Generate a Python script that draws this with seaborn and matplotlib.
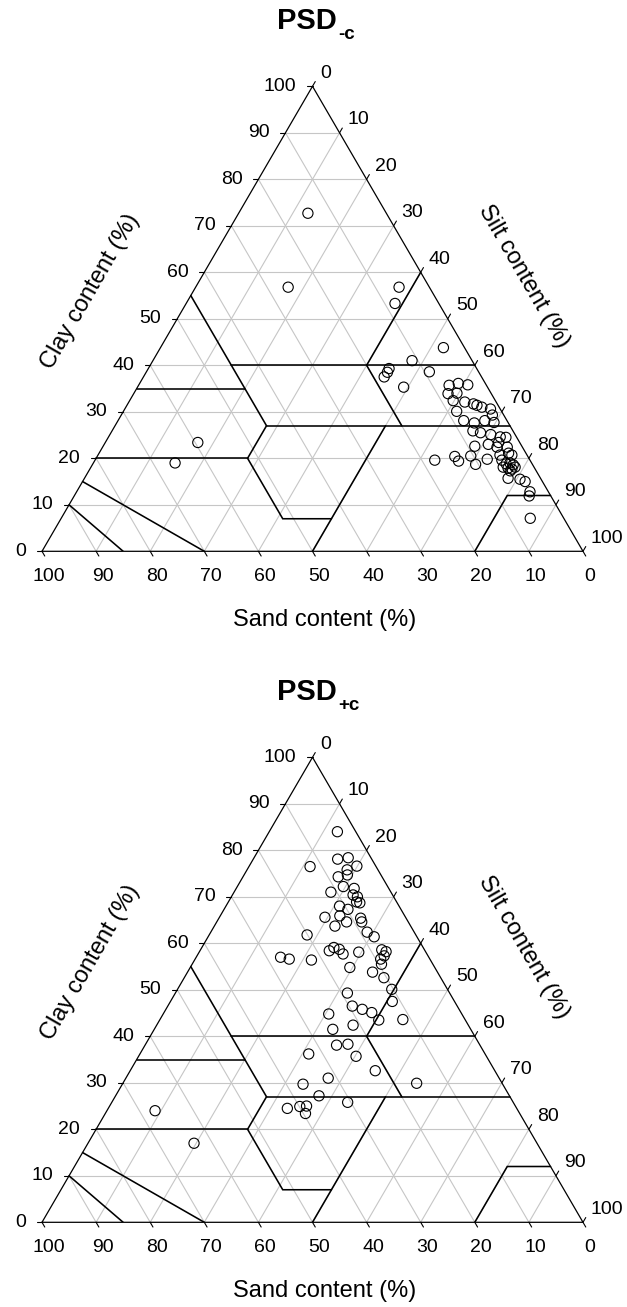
import matplotlib
matplotlib.use("Agg")
import matplotlib.pyplot as plt
import matplotlib.transforms as mtransforms
import numpy as np
import pandas as pd
import seaborn as sns

# ---------------------------------------------------------------------------
# Particle size distribution of the samples (%), without (-c) and with (+c)
# ---------------------------------------------------------------------------
clay_minus = [72.7, 56.8, 56.8, 53.3, 43.8, 41.0, 38.6, 39.3, 38.5, 37.5,
              35.3, 19.0, 23.4, 19.6, 20.4, 19.4, 20.5, 18.7, 19.8, 7.1,
              35.7, 36.1, 35.8, 33.9, 34.0, 32.4, 32.1, 31.7, 31.4, 31.0,
              30.6, 30.1, 29.3, 28.1, 27.6, 28.1, 27.7, 25.9, 25.5, 25.1,
              24.6, 24.5, 23.4, 23.0, 22.6, 22.4, 22.4, 21.1, 20.7, 20.7,
              19.6, 18.8, 19.0, 18.6, 17.9, 17.7, 18.1, 17.3, 15.7, 15.5,
              15.0, 12.8, 11.9, 18.1]
silt_minus = [12.8, 17.1, 37.6, 38.6, 52.3, 47.9, 52.3, 44.5, 44.6, 44.5,
              49.2, 15.1, 17.1, 62.8, 66.1, 67.3, 69.0, 70.8, 72.4, 86.7,
              57.4, 58.9, 60.8, 58.1, 59.7, 59.8, 62.1, 63.9, 64.7, 65.8,
              67.6, 61.6, 68.6, 63.9, 66.1, 67.8, 69.7, 66.7, 68.3, 70.4,
              72.4, 73.5, 72.7, 71.0, 68.7, 72.9, 74.8, 75.7, 76.5, 74.3,
              75.2, 76.4, 77.0, 77.8, 77.2, 78.0, 78.4, 77.9, 78.3, 80.6,
              81.8, 83.8, 84.1, 76.2]
sand_minus = [14.5, 26.1, 5.6, 8.1, 3.9, 11.1, 9.1, 16.2, 16.9, 18.0,
              15.5, 65.9, 59.5, 17.6, 13.5, 13.3, 10.5, 10.5, 7.8, 6.2,
              6.9, 5.0, 3.4, 8.0, 6.3, 7.8, 5.8, 4.4, 3.9, 3.2,
              1.8, 8.3, 2.1, 8.0, 6.3, 4.1, 2.6, 7.4, 6.2, 4.5,
              3.0, 2.0, 3.9, 6.0, 8.7, 4.7, 2.8, 3.2, 2.8, 5.0,
              5.2, 4.8, 4.0, 3.6, 4.9, 4.3, 3.5, 4.8, 6.0, 3.9,
              3.2, 3.4, 4.0, 5.7]

clay_plus = [24.0, 17.0, 24.5, 24.9, 25.0, 23.4, 27.2, 25.8, 29.7, 31.0,
             29.9, 32.6, 36.2, 38.1, 38.3, 35.7, 41.5, 42.4, 44.8, 46.5,
             45.8, 45.1, 43.5, 43.6, 47.5, 49.3, 50.1, 52.6, 53.8, 54.8,
             58.6, 58.2, 57.3, 56.6, 55.5, 58.1, 58.4, 59.1, 58.7, 57.7,
             56.4, 57.0, 56.6, 61.8, 62.4, 61.4, 65.4, 64.6, 64.6, 63.7,
             65.9, 65.6, 68.0, 67.3, 68.9, 68.7, 78.1, 78.4, 76.6, 75.8,
             74.7, 74.3, 72.2, 71.8, 71.0, 70.4, 70.0, 84.0, 76.5]
silt_plus = [8.9, 19.6, 33.1, 35.2, 36.4, 37.0, 37.6, 43.6, 33.4, 37.4,
             54.3, 45.3, 31.2, 35.4, 37.4, 40.2, 33.0, 36.3, 30.6, 34.1,
             36.3, 38.4, 40.5, 44.9, 41.0, 31.8, 39.6, 36.9, 34.2, 29.5,
             33.5, 34.5, 34.6, 34.3, 35.0, 29.5, 23.9, 24.4, 25.6, 26.8,
             21.6, 15.6, 17.4, 18.1, 28.9, 30.7, 26.2, 26.8, 24.0, 22.3,
             22.1, 19.5, 21.0, 22.9, 23.7, 24.4, 15.6, 17.4, 19.9, 18.5,
             19.1, 17.6, 19.6, 21.8, 17.9, 22.3, 23.3, 12.6, 11.3]
sand_plus = [67.1, 63.4, 42.4, 39.9, 38.6, 39.6, 35.2, 30.6, 36.9, 31.6,
             15.8, 22.1, 32.6, 26.5, 24.3, 24.1, 25.5, 21.3, 24.6, 19.4,
             17.9, 16.5, 16.0, 11.5, 11.5, 18.9, 10.3, 10.5, 12.0, 15.7,
             7.9, 7.3, 8.1, 9.1, 9.5, 12.4, 17.7, 16.5, 15.7, 15.5,
             22.0, 27.4, 26.0, 20.1, 8.7, 7.9, 8.4, 8.6, 11.4, 14.0,
             12.0, 14.9, 11.0, 9.8, 7.4, 6.9, 6.3, 4.2, 3.5, 5.7,
             6.2, 8.1, 8.2, 6.4, 11.1, 7.3, 6.7, 3.4, 12.2]

tick_values = list(range(0, 101, 10))

# USDA texture-class boundaries as (silt, clay) vertices
usda_lines = [
    [(15, 40), (60, 40)],
    [(40, 40), (40, 60)],
    [(0, 55), (28, 27)],
    [(0, 35), (20, 35)],
    [(28, 27), (73, 27)],
    [(40, 40), (53, 27)],
    [(50, 27), (50, 0)],
    [(28, 27), (28, 20), (41, 7), (50, 7)],
    [(0, 20), (28, 20)],
    [(80, 0), (80, 12), (88, 12)],
    [(30, 0), (0, 15)],
    [(15, 0), (0, 10)],
]

# ---------------------------------------------------------------------------
sns.set_style("white")
plt.rcParams["font.family"] = ["Liberation Sans", "DejaVu Sans"]
plt.rcParams["text.color"] = "black"

W, H, DPI = 627, 1307, 100
fig = plt.figure(figsize=(W / DPI, H / DPI), dpi=DPI)

TRI_LEFT, TRI_W, TRI_H = 42.0, 541.0, 465.0   # pixels
PX_X = TRI_W / 100.0
PX_Y = TRI_H / 100.0


def xy(silt, clay):
    silt = np.asarray(silt, dtype=float)
    clay = np.asarray(clay, dtype=float)
    return silt + clay / 2.0, clay


def draw_panel(base_px, silt, clay, sub):
    ax = fig.add_axes([TRI_LEFT / W, (H - base_px) / H, TRI_W / W, TRI_H / H])
    ax.set_xlim(0, 100)
    ax.set_ylim(0, 100)

    def off(dx, dy):
        return mtransforms.offset_copy(ax.transData, fig=fig, x=dx, y=dy,
                                       units="dots")

    grid_kw = dict(color="#c6c6c6", lw=0.8, zorder=1, solid_capstyle="butt")
    for v in tick_values[1:-1]:
        # constant clay, silt and sand lines
        ax.plot(*xy([0, 100 - v], [v, v]), **grid_kw)
        ax.plot(*xy([v, v], [0, 100 - v]), **grid_kw)
        ax.plot(*xy([100 - v, 0], [0, 100 - v]), **grid_kw)

    for line in usda_lines:
        s, c = zip(*line)
        ax.plot(*xy(s, c), color="black", lw=1.15, zorder=3,
                solid_joinstyle="miter")

    ax.plot(*xy([0, 100, 0, 0], [0, 0, 100, 0]), color="black", lw=0.9,
            zorder=4, clip_on=False)

    # ticks and tick labels
    L = 5.5
    ux, uy = 0.502, 0.864
    fs = 14
    for v in tick_values:
        # clay (left edge)
        x0, y0 = xy(0, v)
        ax.plot([x0, x0 - L / PX_X], [y0, y0], color="black", lw=0.8,
                clip_on=False)
        ax.text(x0, y0, str(v), transform=off(-16, 0), ha="right",
                va="center", fontsize=fs)
        # sand (bottom edge)
        x0, y0 = xy(100 - v, 0)
        ax.plot([x0, x0 + L * ux / PX_X], [y0, y0 - L * uy / PX_Y],
                color="black", lw=0.8, clip_on=False)
        ax.text(x0, y0, str(v), transform=off(6.5, -25), ha="center",
                va="center", fontsize=fs)
        # silt (right edge)
        x0, y0 = xy(v, 100 - v)
        ax.plot([x0, x0 + L * ux / PX_X], [y0, y0 + L * uy / PX_Y],
                color="black", lw=0.8, clip_on=False)
        ax.text(x0, y0, str(v), transform=off(8, 13), ha="left",
                va="center", fontsize=fs)

    # axis titles
    afs = 17
    ax.text((325 - TRI_LEFT) / PX_X, 0, "Sand content (%)",
            transform=off(0, -69), ha="center", va="center", fontsize=afs)
    ax.text((90 - TRI_LEFT) / PX_X, (551.3 - 292) / PX_Y,
            "Clay content (%)", ha="center", va="center", rotation=60,
            rotation_mode="anchor", fontsize=afs)
    ax.text((524 - TRI_LEFT) / PX_X, (551.3 - 276) / PX_Y,
            "Silt content (%)", ha="center", va="center", rotation=-60,
            rotation_mode="anchor", fontsize=afs)

    # panel title with subscript
    ax.text((337 - TRI_LEFT) / PX_X, 100, "PSD", transform=off(0, 57),
            ha="right", va="baseline", fontsize=21, fontweight="bold")
    ax.text((338.5 - TRI_LEFT) / PX_X, 100, sub, transform=off(0, 47.5),
            ha="left", va="baseline", fontsize=13.5, fontweight="bold")

    x, y = xy(silt, clay)
    df = pd.DataFrame({"x": x, "y": y})
    sns.scatterplot(data=df, x="x", y="y", ax=ax, marker="o", s=54,
                    facecolors="none", edgecolor="black", linewidth=0.8,
                    zorder=5, clip_on=False, legend=False)
    ax.set_xlabel("")
    ax.set_ylabel("")
    ax.axis("off")
    return ax


draw_panel(551.3, silt_minus, clay_minus, "-c")
draw_panel(1222.3, silt_plus, clay_plus, "+c")

fig.savefig("out.png", dpi=DPI)
